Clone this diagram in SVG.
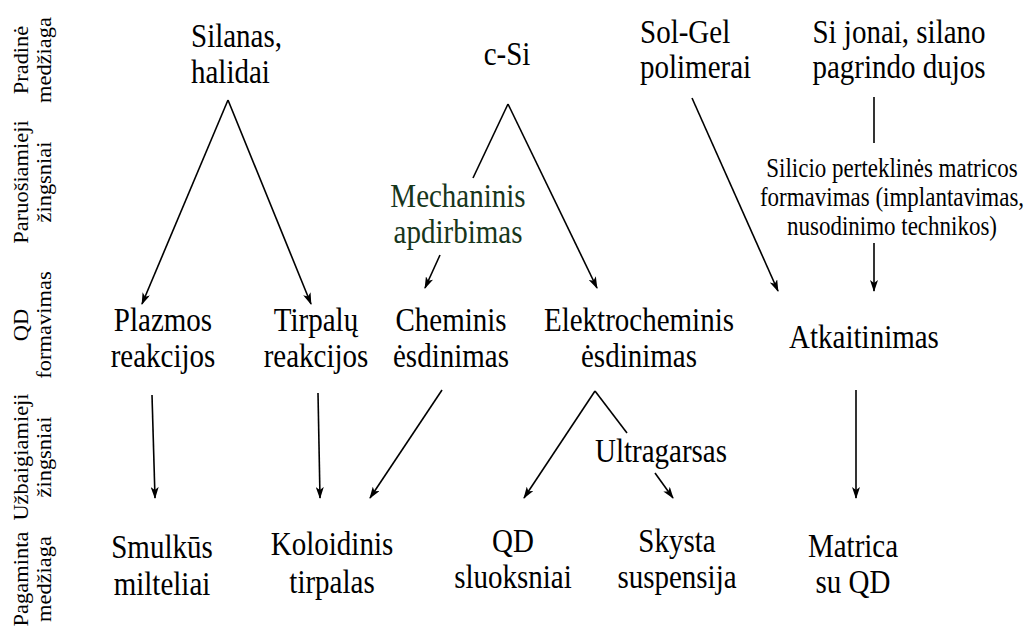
<svg xmlns="http://www.w3.org/2000/svg" width="1026" height="628" viewBox="0 0 1026 628">
<style>
text{font-family:"Liberation Serif","Times New Roman",serif;fill:#000;}
.t{font-size:29px;text-anchor:middle;}
.ts{font-size:29px;text-anchor:start;}
.sm{font-size:23px;text-anchor:middle;}
.lab{font-size:21px;text-anchor:middle;}
.g{fill:#17361b;}
.c line{stroke:#000;stroke-width:1.6;fill:none;}
.c .a{marker-end:url(#ah);}
</style>
<defs>
<marker id="ah" viewBox="0 0 12 8" refX="11" refY="4" markerWidth="12" markerHeight="8" markerUnits="userSpaceOnUse" orient="auto">
<path d="M0,0 L12,4 L0,8 L3,4 z" fill="#000"/>
</marker>
</defs>
<rect width="1026" height="628" fill="#fff"/>
<g id="row-labels">
<text class="lab" transform="translate(0,60) rotate(-90) scale(1.07,1)"><tspan x="0" y="28">Pradinė</tspan><tspan x="0" y="51">medžiaga</tspan></text>
<text class="lab" transform="translate(0,182) rotate(-90) scale(1.07,1)"><tspan x="0" y="28">Paruošiamieji</tspan><tspan x="0" y="51">žingsniai</tspan></text>
<text class="lab" transform="translate(0,325) rotate(-90) scale(1.07,1)"><tspan x="0" y="28">QD</tspan><tspan x="0" y="51">formavimas</tspan></text>
<text class="lab" transform="translate(0,457) rotate(-90) scale(1.07,1)"><tspan x="0" y="28">Užbaigiamieji</tspan><tspan x="0" y="51">žingsniai</tspan></text>
<text class="lab" transform="translate(0,579) rotate(-90) scale(1.07,1)"><tspan x="0" y="28">Pagaminta</tspan><tspan x="0" y="51">medžiaga</tspan></text>
</g>
<g id="n-silanas"><text class="ts" transform="translate(191,47) scale(1,1.15)"><tspan x="0" y="0">Silanas,</tspan><tspan x="0" dy="31.3">halidai</tspan></text></g>
<g id="n-csi"><text class="t" transform="translate(507,65) scale(1,1.15)">c-Si</text></g>
<g id="n-solgel"><text class="ts" transform="translate(640,43) scale(1,1.15)"><tspan x="0" y="0">Sol-Gel</tspan><tspan x="0" dy="30.4">polimerai</tspan></text></g>
<g id="n-sijonai"><text class="t" transform="translate(899,43) scale(1,1.15)"><tspan x="0" y="0">Si jonai, silano</tspan><tspan x="0" dy="30.4">pagrindo dujos</tspan></text></g>
<g id="n-mech"><text class="t g" transform="translate(458,207) scale(1,1.15)"><tspan x="0" y="0">Mechaninis</tspan><tspan x="0" dy="31.3">apdirbimas</tspan></text></g>
<g id="n-silicio"><text class="sm" transform="translate(892,177) scale(1,1.15)"><tspan x="0" y="0">Silicio perteklinės matricos</tspan><tspan x="0" dy="25.2">formavimas (implantavimas,</tspan><tspan x="0" dy="25.2">nusodinimo technikos)</tspan></text></g>
<g id="n-plazmos"><text class="t" transform="translate(163,331) scale(1,1.15)"><tspan x="0" y="0">Plazmos</tspan><tspan x="0" dy="31.3">reakcijos</tspan></text></g>
<g id="n-tirpalu"><text class="t" transform="translate(316,331) scale(1,1.15)"><tspan x="0" y="0">Tirpalų</tspan><tspan x="0" dy="31.3">reakcijos</tspan></text></g>
<g id="n-cheminis"><text class="t" transform="translate(451,331) scale(1,1.15)"><tspan x="0" y="0">Cheminis</tspan><tspan x="0" dy="31.3">ėsdinimas</tspan></text></g>
<g id="n-elektro"><text class="t" transform="translate(639,331) scale(1,1.15)"><tspan x="0" y="0">Elektrocheminis</tspan><tspan x="0" dy="31.3">ėsdinimas</tspan></text></g>
<g id="n-atkait"><text class="t" transform="translate(864,348) scale(1,1.15)">Atkaitinimas</text></g>
<g id="n-ultra"><text class="t" transform="translate(661,462) scale(1,1.15)">Ultragarsas</text></g>
<g id="n-smulkus"><text class="t" transform="translate(162,558) scale(1,1.15)"><tspan x="0" y="0">Smulkūs</tspan><tspan x="0" dy="32.2">milteliai</tspan></text></g>
<g id="n-koloid"><text class="t" transform="translate(332,555) scale(1,1.15)"><tspan x="0" y="0">Koloidinis</tspan><tspan x="0" dy="33">tirpalas</tspan></text></g>
<g id="n-qdsl"><text class="t" transform="translate(513,552) scale(1,1.15)"><tspan x="0" y="0">QD</tspan><tspan x="0" dy="31.3">sluoksniai</tspan></text></g>
<g id="n-skysta"><text class="t" transform="translate(677,552) scale(1,1.15)"><tspan x="0" y="0">Skysta</tspan><tspan x="0" dy="31.3">suspensija</tspan></text></g>
<g id="n-matrica"><text class="t" transform="translate(853,557) scale(1,1.15)"><tspan x="0" y="0">Matrica</tspan><tspan x="0" dy="31.3">su QD</tspan></text></g>
<g id="connectors" class="c">
<line class="a" x1="228" y1="100" x2="142" y2="304"/>
<line class="a" x1="228" y1="100" x2="311" y2="304"/>
<line x1="508" y1="104" x2="473" y2="178"/>
<line class="a" x1="508" y1="104" x2="597" y2="288"/>
<line class="a" x1="440" y1="255" x2="425" y2="288"/>
<line class="a" x1="692" y1="98" x2="778" y2="291"/>
<line x1="874" y1="97" x2="874" y2="143"/>
<line class="a" x1="874" y1="243" x2="874" y2="291"/>
<line class="a" x1="152" y1="395" x2="155" y2="498"/>
<line class="a" x1="318" y1="393" x2="320" y2="498"/>
<line class="a" x1="442" y1="390" x2="370" y2="498"/>
<line class="a" x1="595" y1="391" x2="524" y2="498"/>
<line x1="595" y1="391" x2="627" y2="433"/>
<line class="a" x1="655" y1="473" x2="673" y2="498"/>
<line class="a" x1="856" y1="390" x2="856" y2="498"/>
</g>
</svg>
